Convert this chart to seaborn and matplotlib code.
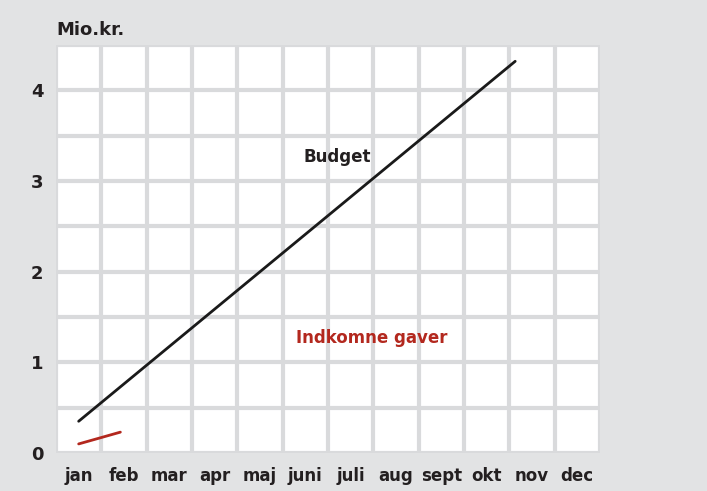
import numpy as np
import pandas as pd
import matplotlib
matplotlib.use("Agg")
import matplotlib.pyplot as plt
import seaborn as sns

# Data (x = month index, 0 = jan)
months = ["jan", "feb", "mar", "apr", "maj", "juni", "juli", "aug", "sept", "okt", "nov", "dec"]
budget_x = [0.0, 9.63]
budget_y = [0.35, 4.32]
gaver_x = [0.0, 0.92]
gaver_y = [0.10, 0.23]
y_ticks = [0, 1, 2, 3, 4]

budget_df = pd.DataFrame({"maaned": budget_x, "mio": budget_y})
gaver_df = pd.DataFrame({"maaned": gaver_x, "mio": gaver_y})

bg = "#e2e3e4"
grid_col = "#d9dadc"
dark = "#231f20"
red = "#b3281e"

sns.set_style("white")
plt.rcParams["font.family"] = ["DejaVu Sans"]

fig = plt.figure(figsize=(7.07, 4.91), dpi=100, facecolor=bg)
ax = fig.add_axes([0.0792, 0.0774, 0.7694, 0.831])
ax.set_facecolor("white")

sns.lineplot(data=budget_df, x="maaned", y="mio", color="#1a1a1a", linewidth=2.0, ax=ax)
sns.lineplot(data=gaver_df, x="maaned", y="mio", color=red, linewidth=2.0, ax=ax)

ax.set_xlim(-0.5, 11.5)
ax.set_ylim(0, 4.5)

# x: labels on major ticks, cell borders on minor ticks
ax.set_xticks(range(len(months)))
ax.set_xticklabels(months)
ax.set_xticks(np.arange(-0.5, 12, 1), minor=True)
ax.set_yticks(y_ticks)
ax.set_yticks(np.arange(0.5, 4.6, 1.0), minor=True)
ax.grid(which="both", axis="y", color=grid_col, linewidth=3.0)
ax.grid(which="minor", axis="x", color=grid_col, linewidth=3.0)
ax.grid(which="major", axis="x", visible=False)
ax.set_axisbelow(True)

ax.tick_params(which="both", length=0)
ax.tick_params(axis="x", pad=10, labelsize=12, labelcolor=dark)
ax.tick_params(axis="y", pad=9, labelsize=13, labelcolor=dark)
for lbl in ax.get_xticklabels() + ax.get_yticklabels():
    lbl.set_fontweight("bold")

for s in ax.spines.values():
    s.set_visible(False)

ax.set_xlabel("")
ax.set_ylabel("")

fig.text(0.0792, 0.938, "Mio.kr.", fontsize=13, fontweight="bold", color=dark,
         ha="left", va="center")

ax.text(5.7, 3.26, "Budget", fontsize=12, fontweight="bold", color=dark,
        ha="center", va="center")
ax.text(6.47, 1.27, "Indkomne gaver", fontsize=12, fontweight="bold", color=red,
        ha="center", va="center")

fig.savefig("out.png", dpi=100, facecolor=bg)
